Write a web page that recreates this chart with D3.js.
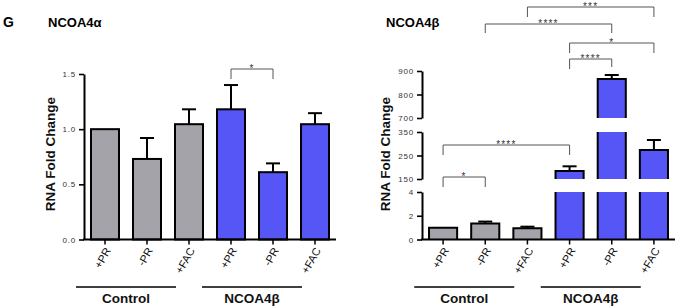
<!DOCTYPE html>
<html><head><meta charset="utf-8">
<script src="https://cdn.jsdelivr.net/npm/d3@7"></script>
<style>
body{margin:0;background:#fff}
text{font-family:"Liberation Sans",Arial,Helvetica,sans-serif}
</style>
</head><body>
<svg id="c" width="675" height="307"></svg>
<script>
// ---------- data ----------
const categories = ["+PR", "-PR", "+FAC", "+PR", "-PR", "+FAC"];
const groupOf = [0, 0, 0, 1, 1, 1];
const groups = ["Control", "NCOA4β"];

const alphaValues = [1.0, 0.73, 1.045, 1.18, 0.61, 1.045];
const alphaErrors = [0, 0.19, 0.135, 0.22, 0.08, 0.10];
const alphaTicks = [0, 0.5, 1.0, 1.5];

const betaValues = [1.0, 1.35, 0.94, 184, 866, 273];
const betaErrors = [0, 0.16, 0.14, 20, 17, 43];
const betaSegments = [[0, 4], [150, 350], [700, 900]];
const betaTicks = [[0, 2, 4], [150, 250, 350], [700, 800, 900]];

const alphaBrackets = [{a: 3, b: 4, label: "*"}];
const betaBrackets = [
  {a: 2, b: 5, label: "***"},
  {a: 1, b: 4, label: "****"},
  {a: 3, b: 5, label: "*"},
  {a: 3, b: 4, label: "****"},
  {a: 0, b: 3, label: "****"},
  {a: 0, b: 1, label: "*"}
];

// ---------- styles / layout ----------
const groupColors = ["#a4a3a9", "#5656f6"];
const svg = d3.select("#c");
const baseY = 239.5;

function xScale(r0, r1) {
  return d3.scaleBand().domain(d3.range(categories.length)).range([r0, r1])
    .paddingInner(1/3).paddingOuter(1/6);
}

function styleAxis(g) {
  g.select(".domain").attr("stroke", "#000").attr("stroke-width", 2);
  g.selectAll(".tick line").attr("stroke", "#000").attr("stroke-width", 1.6);
  g.selectAll(".tick text").attr("font-size", 8).attr("fill", "#333")
    .attr("letter-spacing", "0.8px").attr("font-family", "Liberation Sans, Arial, sans-serif");
}

function xAxisAndGroups(x, x0, x1) {
  svg.append("line").attr("x1", x0 - 1).attr("x2", x1).attr("y1", baseY).attr("y2", baseY)
    .attr("stroke", "#000").attr("stroke-width", 2);
  categories.forEach((c, i) => {
    const cx = x(i) + x.bandwidth() / 2;
    svg.append("line").attr("x1", cx).attr("x2", cx).attr("y1", baseY).attr("y2", baseY + 5)
      .attr("stroke", "#000").attr("stroke-width", 1.5);
    svg.append("text").attr("transform", `translate(${cx + 3},${baseY + 9}) rotate(-60)`)
      .attr("text-anchor", "end").attr("dy", "0.35em").attr("font-size", 11).attr("fill", "#111")
      .text(c);
  });
  groups.forEach((g, gi) => {
    const idx = d3.range(categories.length).filter(i => groupOf[i] === gi);
    const cMid = (x(idx[0]) + x(idx[idx.length - 1]) + x.bandwidth()) / 2 - 21;
    svg.append("line").attr("x1", cMid - 50).attr("x2", cMid + 50).attr("y1", 287).attr("y2", 287)
      .attr("stroke", "#000").attr("stroke-width", 1.3);
    svg.append("text").attr("x", cMid).attr("y", 303).attr("text-anchor", "middle")
      .attr("font-size", 13.5).attr("font-weight", "bold").attr("fill", "#111").text(g);
  });
}

function yLabel(cx) {
  svg.append("text").attr("transform", `translate(${cx},154) rotate(-90)`)
    .attr("text-anchor", "middle").attr("dy", "0.35em")
    .attr("font-size", 13.5).attr("font-weight", "bold").attr("fill", "#111").text("RNA Fold Change");
}

function errorBar(cx, yTop, yErr) {
  svg.append("line").attr("x1", cx).attr("x2", cx).attr("y1", yTop).attr("y2", yErr)
    .attr("stroke", "#000").attr("stroke-width", 2);
  svg.append("line").attr("x1", cx - 7).attr("x2", cx + 7).attr("y1", yErr).attr("y2", yErr)
    .attr("stroke", "#000").attr("stroke-width", 2);
}

function bracket(x, br, yTop, dl, dr) {
  const xa = x(br.a) + x.bandwidth() / 2, xb = x(br.b) + x.bandwidth() / 2;
  svg.append("path").attr("d", `M${xa},${yTop + dl}V${yTop}H${xb}V${yTop + dr}`)
    .attr("fill", "none").attr("stroke", "#555").attr("stroke-width", 1);
  svg.append("text").attr("x", (xa + xb) / 2).attr("y", yTop + 2.5).attr("text-anchor", "middle")
    .attr("font-size", 10).attr("letter-spacing", "1.2px").attr("fill", "#333").text(br.label);
}

// ---------- titles ----------
svg.append("text").attr("x", 3).attr("y", 27).attr("font-size", 14).attr("font-weight", "bold").text("G");
svg.append("text").attr("x", 48).attr("y", 27).attr("font-size", 13).attr("font-weight", "bold").text("NCOA4α");
svg.append("text").attr("x", 386).attr("y", 27).attr("font-size", 13).attr("font-weight", "bold").text("NCOA4β");

// ---------- left chart (NCOA4α) ----------
{
  const x = xScale(84, 336);
  const y = d3.scaleLinear().domain([0, 1.5]).range([baseY, 74]);
  alphaValues.forEach((v, i) => {
    svg.append("rect").attr("x", x(i)).attr("width", x.bandwidth())
      .attr("y", y(v)).attr("height", baseY - y(v))
      .attr("fill", groupColors[groupOf[i]]).attr("stroke", "#000").attr("stroke-width", 2);
    if (alphaErrors[i] > 0) errorBar(x(i) + x.bandwidth() / 2, y(v), y(v + alphaErrors[i]));
  });
  const ax = svg.append("g").attr("transform", "translate(84,0)")
    .call(d3.axisLeft(y).tickValues(alphaTicks).tickFormat(d3.format(".1f"))
      .tickSize(5).tickSizeOuter(0).tickPadding(3));
  styleAxis(ax);
  xAxisAndGroups(x, 84, 336);
  yLabel(50);
  bracket(x, alphaBrackets[0], 69, 10, 10);
}

// ---------- right chart (NCOA4β, broken axis) ----------
{
  const x = xScale(422, 675);
  const segRanges = [[baseY, 192], [179, 132], [118, 71]];
  const segs = betaSegments.map((d, k) => d3.scaleLinear().domain(d).range(segRanges[k]));
  const yOf = v => {
    for (let k = segs.length - 1; k >= 0; k--) if (v >= betaSegments[k][0]) return segs[k](Math.min(v, betaSegments[k][1]));
    return segs[0](v);
  };
  betaValues.forEach((v, i) => {
    const x0 = x(i), x1 = x(i) + x.bandwidth();
    segs.forEach((s, k) => {
      const [d0, d1] = betaSegments[k];
      if (v <= d0) return;
      const top = Math.min(v, d1);
      const yb = s(d0), yt = s(top);
      svg.append("rect").attr("x", x0).attr("width", x1 - x0).attr("y", yt).attr("height", yb - yt)
        .attr("fill", groupColors[groupOf[i]]);
      const d = top === v ? `M${x0},${yb}V${yt}H${x1}V${yb}` : `M${x0},${yb}V${yt}M${x1},${yt}V${yb}`;
      svg.append("path").attr("d", d).attr("fill", "none").attr("stroke", "#000").attr("stroke-width", 2);
    });
    if (betaErrors[i] > 0) errorBar((x0 + x1) / 2, yOf(v), yOf(v + betaErrors[i]));
  });
  segs.forEach((s, k) => {
    const ax = svg.append("g").attr("transform", "translate(422,0)")
      .call(d3.axisLeft(s).tickValues(betaTicks[k]).tickFormat(d3.format("d"))
        .tickSize(5).tickSizeOuter(0).tickPadding(3));
    styleAxis(ax);
  });
  xAxisAndGroups(x, 422, 675);
  yLabel(385);
  const layout = [[7, 10, 10], [24, 9, 9], [43, 10, 10], [59, 10, 8], [145, 10, 10], [177, 10, 10]];
  betaBrackets.forEach((b, k) => bracket(x, b, layout[k][0], layout[k][1], layout[k][2]));
}
</script>
</body></html>
